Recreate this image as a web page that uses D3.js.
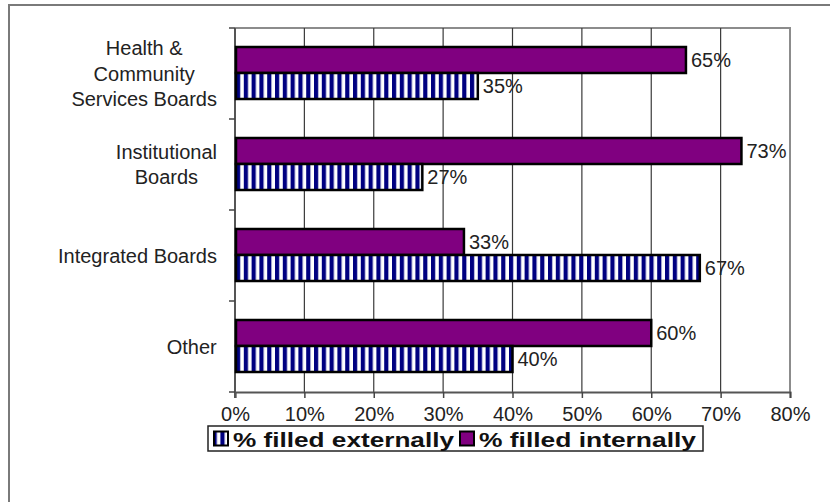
<!DOCTYPE html>
<html>
<head>
<meta charset="utf-8">
<script src="https://cdn.jsdelivr.net/npm/d3@7"></script>
<style>
  html, body { margin: 0; padding: 0; background: #fff; }
  svg { display: block; font-family: "Liberation Sans", Arial, sans-serif; }
</style>
</head>
<body>
<svg id="chart" width="830" height="502"></svg>
<script>
// Board types (top to bottom) and the share of positions filled each way
const categories = [
  ["Health &", "Community", "Services Boards"],
  ["Institutional", "Boards"],
  ["Integrated Boards"],
  ["Other"]
];
const filledInternally = [65, 73, 33, 60];
const filledExternally = [35, 27, 67, 40];
const seriesNames = ["% filled externally", "% filled internally"];
const xTicks = [0, 10, 20, 30, 40, 50, 60, 70, 80];

const svg = d3.select("#chart");
const W = 830, H = 502;
const plot = { left: 235, right: 790, top: 28, bottom: 392 };
const fontSize = 20;

// stripe pattern for the externally-filled series
const defs = svg.append("defs");
const pat = defs.append("pattern")
  .attr("id", "stripes")
  .attr("patternUnits", "userSpaceOnUse")
  .attr("x", plot.left + 1)
  .attr("width", 7.8).attr("height", 10);
pat.append("rect").attr("width", 7.8).attr("height", 10).attr("fill", "#fff");
pat.append("rect").attr("x", 0).attr("width", 4.2).attr("height", 10).attr("fill", "#000080");

// outer frame
svg.append("rect")
  .attr("x", 9).attr("y", 5)
  .attr("width", W + 10).attr("height", H + 10)
  .attr("fill", "none").attr("stroke", "#7a7a7a").attr("stroke-width", 2);

const x = d3.scaleLinear().domain([0, 80]).range([plot.left, plot.right]);
const y = d3.scaleBand().domain(d3.range(categories.length)).range([plot.top, plot.bottom]);

// plot area border (top/right)
svg.append("path")
  .attr("d", `M${plot.left},${plot.top}H${plot.right}V${plot.bottom}`)
  .attr("fill", "none").attr("stroke", "#8c8c8c").attr("stroke-width", 2);

// vertical gridlines
svg.append("g").selectAll("line")
  .data(xTicks.filter(t => t > 0 && t < 80))
  .join("line")
  .attr("x1", d => x(d)).attr("x2", d => x(d))
  .attr("y1", plot.top).attr("y2", plot.bottom)
  .attr("stroke", "#3a3a3a").attr("stroke-width", 1.2);

// x axis
const xAxis = svg.append("g")
  .attr("transform", `translate(0,${plot.bottom})`)
  .call(d3.axisBottom(x).tickValues(xTicks).tickFormat(d => d + "%").tickSize(6).tickPadding(9));
xAxis.select(".domain").attr("stroke", "#555").attr("stroke-width", 2);
xAxis.selectAll(".tick line").attr("stroke", "#444").attr("stroke-width", 1.5);
xAxis.selectAll(".tick text")
  .attr("font-size", fontSize).attr("fill", "#222")
  .attr("font-family", "'Liberation Sans', Arial, sans-serif");

// y axis: ticks at the category boundaries
const yBounds = d3.range(categories.length + 1).map(i => plot.top + i * y.step());
svg.append("line")
  .attr("x1", plot.left).attr("x2", plot.left)
  .attr("y1", plot.top).attr("y2", plot.bottom + 6)
  .attr("stroke", "#555").attr("stroke-width", 2);
svg.append("g").selectAll("line")
  .data(yBounds).join("line")
  .attr("x1", plot.left - 6).attr("x2", plot.left)
  .attr("y1", d => d).attr("y2", d => d)
  .attr("stroke", "#444").attr("stroke-width", 1.5);

// bar geometry within each category band
const barH = 26;
const offset = 19;

const gBars = svg.append("g");
const gLabels = svg.append("g");
categories.forEach((c, i) => {
  const y0 = y(i) + offset;
  // filled internally (solid purple, on top)
  gBars.append("rect")
    .attr("x", x(0) + 1).attr("y", y0)
    .attr("width", x(filledInternally[i]) - x(0) - 1).attr("height", barH)
    .attr("fill", "#800080").attr("stroke", "#000").attr("stroke-width", 2.5);
  // filled externally (striped, below)
  gBars.append("rect")
    .attr("x", x(0) + 1).attr("y", y0 + barH)
    .attr("width", x(filledExternally[i]) - x(0) - 1).attr("height", barH)
    .attr("fill", "url(#stripes)").attr("stroke", "#000").attr("stroke-width", 2.5);

  // value labels
  gBars.append("text")
    .attr("x", x(filledInternally[i]) + 5).attr("y", y0 + barH / 2)
    .attr("dy", "0.36em").attr("font-size", fontSize).attr("fill", "#222")
    .text(filledInternally[i] + "%");
  gBars.append("text")
    .attr("x", x(filledExternally[i]) + 5).attr("y", y0 + barH * 1.5)
    .attr("dy", "0.36em").attr("font-size", fontSize).attr("fill", "#222")
    .text(filledExternally[i] + "%");

  // category label, multi-line, centred on the band
  const lh = 25.5;
  const cy = y(i) + y.bandwidth() / 2;
  const t = gLabels.append("text")
    .attr("text-anchor", "middle")
    .attr("font-size", fontSize).attr("fill", "#222");
  c.forEach((line, k) => {
    t.append("tspan")
      .attr("x", 137)
      .attr("y", cy + (k - (c.length - 1) / 2) * lh)
      .attr("dy", "0.36em")
      .text(line);
  });
});

// right edge of each label block sits just left of the axis ticks
gLabels.selectAll("text").each(function() {
  const bb = this.getBBox();
  const shift = 217 - (bb.x + bb.width);
  d3.select(this).attr("transform", `translate(${shift},0)`);
});

// legend
const lg = svg.append("g");
const legendBox = { x: 208, y: 426, w: 495, h: 25 };
lg.append("rect")
  .attr("x", legendBox.x).attr("y", legendBox.y)
  .attr("width", legendBox.w).attr("height", legendBox.h)
  .attr("fill", "#fff").attr("stroke", "#222").attr("stroke-width", 1.5);
const items = [
  { name: seriesNames[0], fill: "url(#stripes)", sx: 214, len: 221 },
  { name: seriesNames[1], fill: "#800080", sx: 460, len: 217 }
];
items.forEach(it => {
  lg.append("rect")
    .attr("x", it.sx).attr("y", legendBox.y + 5.5)
    .attr("width", 14).attr("height", 14)
    .attr("fill", it.fill).attr("stroke", "#000").attr("stroke-width", 2);
  lg.append("text")
    .attr("x", it.sx + 19).attr("y", legendBox.y + legendBox.h / 2 + 0.5)
    .attr("dy", "0.36em")
    .attr("font-size", 21).attr("font-weight", "bold").attr("fill", "#111")
    .attr("textLength", it.len).attr("lengthAdjust", "spacingAndGlyphs")
    .text(it.name);
});
</script>
</body>
</html>
